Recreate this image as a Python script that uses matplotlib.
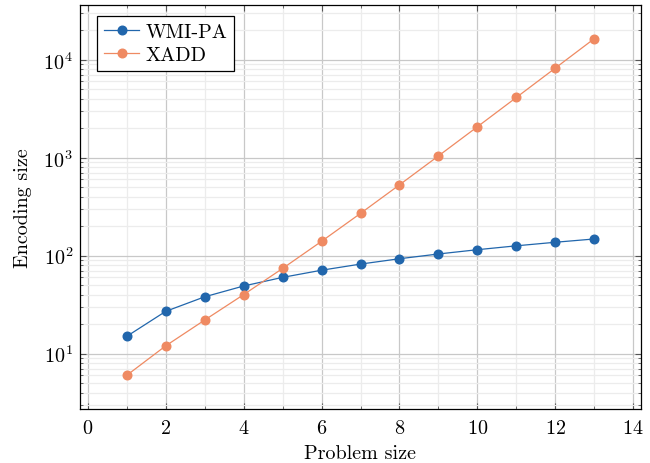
import numpy as np
import matplotlib
matplotlib.use("Agg")
import matplotlib.pyplot as plt
from matplotlib.ticker import LogLocator, MultipleLocator, NullFormatter

plt.rcParams['font.family'] = ['cmr10', 'DejaVu Serif']
plt.rcParams['mathtext.fontset'] = 'cm'
plt.rcParams['axes.formatter.use_mathtext'] = True

problem_size = [1, 2, 3, 4, 5, 6, 7, 8, 9, 10, 11, 12, 13]
wmipa = [15, 27, 38, 49, 60, 71, 82, 93, 104, 115, 126, 137, 148]
xadd = [6, 12, 22, 40, 74, 140, 270, 528, 1042, 2068, 4118, 8216, 16410]
series_names = ["WMI-PA", "XADD"]
colors = ["#2166ac", "#ef8a62"]

fig = plt.figure(figsize=(6.5, 4.64), dpi=100)
ax = fig.add_axes([80/650, 1-410/464, (641-80)/650, (410-6)/464])

for vals, name, c in zip([wmipa, xadd], series_names, colors):
    ax.plot(problem_size, vals, color=c, lw=0.9, marker='o', ms=6.2,
            label=name, zorder=3)

ax.set_yscale('log')
xr = max(problem_size) - min(problem_size)
ax.set_xlim(min(problem_size) - 0.1*xr, max(problem_size) + 0.1*xr)
lo = np.log10(min(min(wmipa), min(xadd)))
hi = np.log10(max(max(wmipa), max(xadd)))
yr = hi - lo
ax.set_ylim(10**(lo - 0.1*yr), 10**(hi + 0.1*yr))

ax.xaxis.set_major_locator(MultipleLocator(2))
ax.xaxis.set_minor_locator(MultipleLocator(1))
ax.yaxis.set_major_locator(LogLocator(base=10, numticks=20))
ax.yaxis.set_minor_locator(LogLocator(base=10, subs=np.arange(2, 10), numticks=20))
ax.yaxis.set_minor_formatter(NullFormatter())

ax.grid(True, which='major', color='#c8c8c8', lw=0.9, zorder=0)
ax.grid(True, which='minor', color='#ececec', lw=0.9, zorder=0)
ax.set_axisbelow(True)

ax.tick_params(which='both', direction='in', top=True, right=True,
               labelsize=14.5, color='#555555')
ax.tick_params(which='major', length=4, width=0.8)
ax.tick_params(which='minor', length=2.5, width=0.6)
ax.tick_params(axis='x', which='major', pad=7)
ax.tick_params(axis='y', which='major', pad=5)
for s in ax.spines.values():
    s.set_linewidth(0.9)
    s.set_color('black')

ax.set_xlabel("Problem size", fontsize=14.5, labelpad=5)
ax.set_ylabel("Encoding size", fontsize=14.5, labelpad=8)

leg = ax.legend(loc='upper left', fontsize=14.5, frameon=True, fancybox=False,
                edgecolor='black', framealpha=1, borderpad=0.35,
                handlelength=1.75, handletextpad=0.3, labelspacing=0.25,
                borderaxespad=0, bbox_to_anchor=(17/561, 1-11/404))
leg.get_frame().set_linewidth(0.9)

fig.savefig("out.png", dpi=100)
